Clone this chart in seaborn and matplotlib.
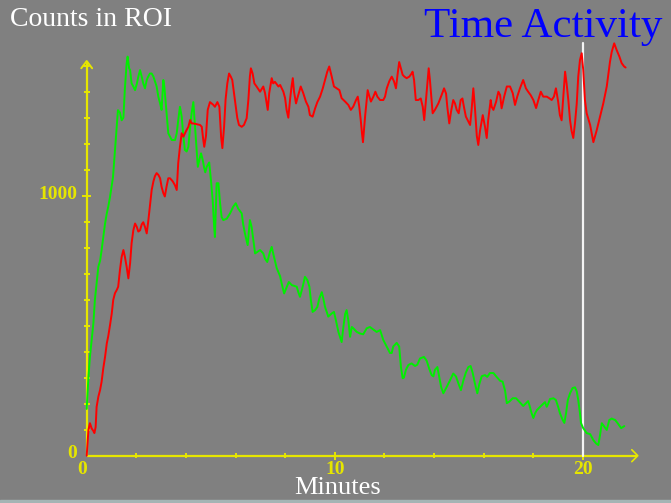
import matplotlib
matplotlib.use("Agg")
import matplotlib.pyplot as plt
from matplotlib.patches import Rectangle
import seaborn as sns
import pandas as pd

sns.set_theme(style="white")
plt.rcParams['font.family'] = ['Liberation Serif', 'DejaVu Serif']

# (minutes, counts)
green_pts = [
    (0.00, 180), (0.07, 303), (0.13, 380), (0.20, 444), (0.27, 510), (0.33, 599), (0.40, 663),
    (0.47, 727), (0.54, 750), (0.60, 790), (0.67, 841), (0.74, 893), (0.81, 932), (0.87, 958),
    (0.94, 995), (1.06, 1071), (1.21, 1264), (1.26, 1329), (1.34, 1320), (1.41, 1290), (1.48, 1300),
    (1.54, 1413), (1.61, 1508), (1.65, 1535), (1.71, 1490), (1.75, 1483), (1.81, 1432), (1.88, 1420),
    (1.95, 1406), (2.02, 1430), (2.08, 1457), (2.15, 1483), (2.22, 1457), (2.28, 1432), (2.35, 1413),
    (2.42, 1445), (2.48, 1458), (2.55, 1470), (2.62, 1470), (2.69, 1458), (2.82, 1420), (2.89, 1380),
    (2.96, 1355), (3.02, 1330), (3.09, 1445), (3.13, 1420), (3.20, 1343), (3.25, 1290), (3.29, 1240),
    (3.36, 1227), (3.43, 1214), (3.56, 1214), (3.63, 1240), (3.69, 1290), (3.76, 1342), (3.83, 1304),
    (3.90, 1226), (3.96, 1176), (4.03, 1170), (4.10, 1188), (4.17, 1265), (4.23, 1317), (4.30, 1360),
    (4.37, 1265), (4.44, 1176), (4.48, 1111), (4.54, 1137), (4.61, 1163), (4.68, 1137), (4.73, 1111),
    (4.78, 1090), (4.84, 1111), (4.94, 1128), (5.01, 1060), (5.08, 983), (5.13, 894), (5.17, 841),
    (5.24, 1048), (5.31, 1048), (5.38, 970), (5.44, 918), (5.51, 906), (5.65, 912), (5.78, 932),
    (5.91, 958), (6.01, 971), (6.11, 950), (6.25, 932), (6.31, 890), (6.38, 855), (6.49, 810),
    (6.58, 906), (6.65, 880), (6.72, 829), (6.79, 778), (6.99, 791), (7.12, 778), (7.19, 758),
    (7.28, 745), (7.39, 784), (7.46, 803), (7.52, 778), (7.66, 722), (7.80, 690), (7.86, 663),
    (7.96, 624), (8.04, 643), (8.15, 668), (8.27, 656), (8.47, 650), (8.53, 630), (8.60, 611),
    (8.71, 650), (8.80, 688), (8.90, 675), (8.98, 650), (9.04, 598), (9.11, 553), (9.21, 560),
    (9.30, 572), (9.38, 605), (9.48, 629), (9.54, 605), (9.61, 572), (9.68, 553), (9.74, 535),
    (9.88, 547), (9.97, 553), (10.05, 520), (10.15, 476), (10.28, 437), (10.35, 495), (10.42, 545),
    (10.48, 560), (10.55, 520), (10.62, 457), (10.69, 495), (10.75, 490), (10.89, 476), (11.02, 470),
    (11.15, 467), (11.29, 490), (11.42, 495), (11.56, 485), (11.69, 476), (11.83, 483), (11.96, 445),
    (12.10, 419), (12.23, 395), (12.30, 395), (12.36, 420), (12.50, 434), (12.60, 420), (12.67, 342),
    (12.74, 298), (12.79, 300), (12.87, 330), (12.97, 349), (13.10, 355), (13.24, 345), (13.33, 350),
    (13.44, 374), (13.60, 380), (13.71, 365), (13.81, 335), (13.91, 310), (13.98, 305), (14.04, 330),
    (14.14, 341), (14.22, 300), (14.29, 265), (14.38, 240), (14.52, 265), (14.65, 290), (14.78, 316),
    (14.89, 305), (14.98, 280), (15.09, 252), (15.19, 290), (15.29, 320), (15.39, 341), (15.48, 345),
    (15.56, 320), (15.66, 275), (15.75, 240), (15.83, 275), (15.93, 306), (16.06, 310), (16.15, 303),
    (16.26, 318), (16.40, 318), (16.53, 303), (16.67, 288), (16.77, 285), (16.87, 250), (16.94, 202),
    (17.04, 208), (17.18, 221), (17.31, 221), (17.44, 208), (17.60, 191), (17.74, 204), (17.80, 210),
    (17.87, 188), (17.94, 163), (18.01, 145), (18.08, 163), (18.15, 175), (18.28, 188), (18.41, 200),
    (18.48, 206), (18.55, 188), (18.61, 200), (18.68, 218), (18.82, 221), (18.92, 214), (19.01, 188),
    (19.08, 164), (19.19, 138), (19.26, 126), (19.33, 164), (19.40, 214), (19.49, 240), (19.59, 260),
    (19.69, 263), (19.76, 247), (19.82, 214), (19.89, 164), (19.93, 126), (20.02, 106), (20.16, 87),
    (20.30, 83), (20.43, 60), (20.54, 47), (20.63, 41), (20.70, 80), (20.77, 125), (20.87, 112),
    (20.97, 99), (21.07, 137), (21.17, 143), (21.31, 137), (21.41, 125), (21.55, 106), (21.68, 114),
]

red_pts = [
    (0.00, 0), (0.07, 99), (0.13, 125), (0.20, 105), (0.27, 95), (0.31, 87), (0.36, 110),
    (0.40, 188), (0.47, 227), (0.54, 253), (0.60, 284), (0.67, 337), (0.74, 380), (0.81, 432),
    (0.87, 460), (0.94, 502), (1.01, 547), (1.07, 599), (1.14, 625), (1.21, 637), (1.27, 650),
    (1.34, 714), (1.41, 765), (1.48, 791), (1.54, 765), (1.61, 727), (1.68, 682), (1.75, 740),
    (1.81, 817), (1.88, 867), (1.95, 893), (2.02, 880), (2.08, 862), (2.15, 867), (2.22, 890),
    (2.28, 898), (2.35, 880), (2.42, 855), (2.48, 900), (2.55, 960), (2.62, 1022), (2.69, 1055),
    (2.75, 1075), (2.82, 1087), (2.89, 1080), (2.96, 1067), (3.02, 1034), (3.09, 1010), (3.15, 997),
    (3.22, 1035), (3.29, 1067), (3.36, 1067), (3.47, 1055), (3.56, 1040), (3.63, 1022), (3.69, 1125),
    (3.76, 1188), (3.83, 1240), (3.90, 1227), (3.96, 1240), (4.03, 1253), (4.10, 1265), (4.17, 1291),
    (4.23, 1278), (4.30, 1278), (4.44, 1275), (4.57, 1272), (4.64, 1265), (4.70, 1215), (4.74, 1188),
    (4.81, 1230), (4.88, 1330), (4.97, 1360), (5.10, 1350), (5.17, 1342), (5.27, 1360), (5.35, 1342),
    (5.42, 1226), (5.47, 1183), (5.54, 1265), (5.60, 1370), (5.67, 1432), (5.74, 1470), (5.81, 1458),
    (5.87, 1445), (5.94, 1395), (6.01, 1342), (6.07, 1300), (6.14, 1272), (6.25, 1265), (6.34, 1272),
    (6.45, 1298), (6.52, 1370), (6.58, 1458), (6.62, 1490), (6.69, 1470), (6.76, 1432), (6.85, 1420),
    (6.99, 1400), (7.12, 1420), (7.19, 1395), (7.26, 1355), (7.30, 1330), (7.36, 1395), (7.46, 1452),
    (7.52, 1432), (7.59, 1438), (7.73, 1420), (7.80, 1426), (7.93, 1400), (8.00, 1375), (8.06, 1330),
    (8.13, 1300), (8.20, 1370), (8.26, 1420), (8.31, 1452), (8.36, 1400), (8.44, 1355), (8.51, 1380),
    (8.63, 1420), (8.73, 1395), (8.84, 1362), (8.94, 1342), (9.00, 1310), (9.11, 1304), (9.21, 1336),
    (9.30, 1360), (9.41, 1381), (9.52, 1413), (9.61, 1445), (9.70, 1477), (9.78, 1497), (9.88, 1458),
    (9.97, 1420), (10.08, 1413), (10.19, 1406), (10.28, 1375), (10.42, 1362), (10.55, 1349), (10.65, 1330),
    (10.75, 1343), (10.86, 1368), (10.93, 1381), (10.99, 1343), (11.05, 1291), (11.10, 1240), (11.14, 1206),
    (11.19, 1265), (11.23, 1310), (11.29, 1368), (11.33, 1406), (11.40, 1381), (11.46, 1362), (11.56, 1381),
    (11.64, 1400), (11.72, 1381), (11.83, 1368), (11.96, 1368), (12.03, 1381), (12.10, 1413), (12.20, 1440),
    (12.30, 1458), (12.39, 1440), (12.47, 1413), (12.54, 1470), (12.60, 1514), (12.67, 1490), (12.74, 1465),
    (12.81, 1458), (12.90, 1452), (13.01, 1458), (13.10, 1470), (13.14, 1477), (13.20, 1445), (13.27, 1368),
    (13.37, 1368), (13.47, 1374), (13.55, 1342), (13.61, 1291), (13.68, 1368), (13.75, 1445), (13.79, 1490),
    (13.84, 1445), (13.90, 1375), (13.95, 1317), (14.04, 1330), (14.18, 1355), (14.31, 1387), (14.41, 1413),
    (14.49, 1393), (14.54, 1342), (14.62, 1278), (14.69, 1323), (14.78, 1368), (14.85, 1355), (14.92, 1330),
    (15.00, 1317), (15.08, 1368), (15.15, 1374), (15.21, 1342), (15.29, 1304), (15.39, 1285), (15.46, 1272),
    (15.52, 1330), (15.59, 1413), (15.66, 1330), (15.73, 1230), (15.79, 1195), (15.86, 1250), (15.97, 1310),
    (16.06, 1265), (16.13, 1222), (16.19, 1292), (16.29, 1368), (16.33, 1342), (16.40, 1330), (16.51, 1362),
    (16.60, 1400), (16.67, 1387), (16.73, 1336), (16.83, 1380), (16.94, 1420), (17.07, 1420), (17.18, 1394),
    (17.27, 1349), (17.36, 1381), (17.47, 1413), (17.60, 1445), (17.71, 1413), (17.80, 1400), (17.90, 1387),
    (18.01, 1368), (18.12, 1337), (18.21, 1368), (18.31, 1400), (18.41, 1381), (18.55, 1381), (18.65, 1375),
    (18.75, 1368), (18.84, 1381), (18.92, 1413), (19.01, 1362), (19.08, 1310), (19.15, 1290), (19.22, 1381),
    (19.29, 1477), (19.35, 1432), (19.42, 1368), (19.49, 1290), (19.55, 1250), (19.62, 1222), (19.69, 1280),
    (19.76, 1355), (19.82, 1458), (19.89, 1522), (19.96, 1548), (20.02, 1485), (20.09, 1368), (20.16, 1317),
    (20.30, 1272), (20.43, 1206), (20.56, 1250), (20.70, 1304), (20.83, 1355), (20.97, 1420), (21.10, 1515),
    (21.17, 1553), (21.27, 1586), (21.37, 1560), (21.48, 1535), (21.57, 1510), (21.67, 1497), (21.73, 1493),
]

green = pd.DataFrame(green_pts, columns=["Minutes", "Counts"])
red = pd.DataFrame(red_pts, columns=["Minutes", "Counts"])

x_ticks_minor = [2, 4, 6, 8, 12, 14, 16, 18]
x_ticks_major = [10, 20]
x_tick_labels = ["10", "20"]
y_ticks_minor = [100, 200, 300, 400, 500, 600, 700, 800, 900, 1100, 1200, 1300, 1400]
marker_minute = 20

BG = "#808080"
YEL = "#e6e600"

fig = plt.figure(figsize=(6.71, 5.03), dpi=100, facecolor=BG)
ax = fig.add_axes([0, 0, 1, 1])
ax.set_facecolor(BG)
# 24.8 px per minute, 0.26 px per count, origin at (86.7, 455.7) px
ax.set_xlim(-86.7 / 24.8, (671 - 86.7) / 24.8)
ax.set_ylim(-(503 - 455.7) / 0.26, 455.7 / 0.26)

# axes drawn by hand, old-school style
ax.plot([0, 0], [0, 1512], color=YEL, lw=1.6, solid_capstyle="butt")
ax.plot([-0.22, 0, 0.22], [1490, 1518, 1490], color=YEL, lw=1.4)
ax.plot([-0.1, 0.1], [1500, 1500], color=YEL, lw=1.4)
ax.plot([0, 22.2], [0, 0], color=YEL, lw=1.6, solid_capstyle="butt")
ax.plot([21.98, 22.22, 21.98], [23, 0, -23], color=YEL, lw=1.2)
ax.hlines(y_ticks_minor, -0.12, 0.12, color=YEL, lw=1.4)
ax.hlines([1000], -0.18, 0.18, color=YEL, lw=1.4)
ax.vlines(x_ticks_minor, -10, 10, color=YEL, lw=1.4)
ax.vlines(x_ticks_major, -15, 15, color=YEL, lw=1.4)

ax.plot([marker_minute, marker_minute], [0, 1588], color="#f4f4f4", lw=1.6)

sns.lineplot(data=green, x="Minutes", y="Counts", color="#00f000", lw=1.4,
             estimator=None, sort=False, ax=ax)
sns.lineplot(data=red, x="Minutes", y="Counts", color="#ff0000", lw=1.4,
             estimator=None, sort=False, ax=ax)
ax.axis("off")

tick_font = dict(color=YEL, fontsize=14, fontweight="bold", family=["Liberation Serif", "DejaVu Serif"])
ax.text(-0.39, 1003, "1000", ha="right", va="center", **tick_font)
ax.text(-0.39, 10, "0", ha="right", va="center", **tick_font)
ax.text(-0.19, -71, "0", ha="center", va="baseline", **tick_font)
for t, lab in zip(x_ticks_major, x_tick_labels):
    ax.text(t, -71, lab, ha="center", va="baseline", **tick_font)

ax.text(-3.09, 1651, "Counts in ROI", color="white", fontsize=20, ha="left", va="baseline")
ax.text(18.42, 1611, "Time Activity", color="#0000ff", fontsize=31, ha="center", va="baseline")
ax.text(10.11, -147, "Minutes", color="white", fontsize=19, ha="center", va="baseline")

fig.patches.append(Rectangle((0, 0), 1, 3 / 503, transform=fig.transFigure,
                             color="#a4b4b4", zorder=5))

plt.savefig("out.png", dpi=100, facecolor=BG)
